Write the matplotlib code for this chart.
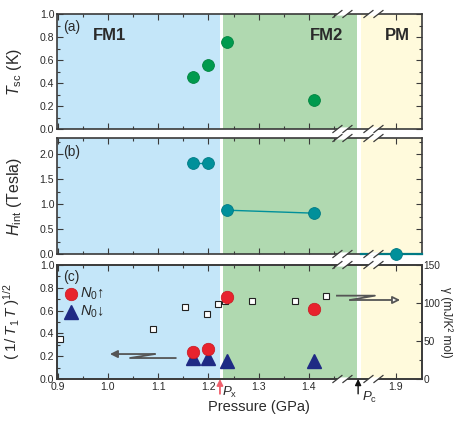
import numpy as np
import matplotlib
matplotlib.use('Agg')
import matplotlib.pyplot as plt
from matplotlib.patches import Polygon
from matplotlib.lines import Line2D
from matplotlib.ticker import FixedLocator, MultipleLocator, FormatStrFormatter
from matplotlib.transforms import blended_transform_factory

plt.rcParams['font.family'] = ['Liberation Sans', 'DejaVu Sans']
plt.rcParams['mathtext.fontset'] = 'custom'
plt.rcParams['mathtext.rm'] = 'Liberation Sans'
plt.rcParams['mathtext.it'] = 'Liberation Sans:italic'
plt.rcParams['mathtext.bf'] = 'Liberation Sans:bold'

# ---------------- data ----------------
p_tsc = [1.17, 1.20, 1.237, 1.41]
tsc = [0.45, 0.555, 0.755, 0.25]

p_hint_fm1 = [1.17, 1.20]
hint_fm1 = [1.83, 1.83]
p_hint_fm2 = [1.237, 1.41]
hint_fm2 = [0.88, 0.82]
p_hint_pm = [1.9]
hint_pm = [0.0]
p_hint_pm_line = [1.831, 1.952]
hint_pm_line = [0.0, 0.0]

p_n0 = [1.17, 1.20, 1.237, 1.41]
n0_up = [0.235, 0.26, 0.72, 0.61]
n0_down = [0.18, 0.18, 0.16, 0.16]

p_gamma = [0.904, 1.090, 1.153, 1.197, 1.220, 1.233, 1.286, 1.372, 1.434]
gamma = [52.6, 65.8, 94.3, 85.5, 98.7, 102.6, 103.0, 103.0, 109.6]

x_ticks = [0.9, 1.0, 1.1, 1.2, 1.3, 1.4, 1.9]
x_tick_labels = ['0.9', '1.0', '1.1', '1.2', '1.3', '1.4', '1.9']
x_minor = [0.95, 1.05, 1.15, 1.25, 1.35, 1.45]

FM1_END = 1.2235
FM2_START = 1.2295
FM2_END = 1.495
PM_START = 1.8304
P_X = 1.223

# ---------------- broken x scale ----------------
B_LO, B_HI, SHIFT = 1.5, 1.827, 0.327


def fwd(p):
    p = np.asarray(p, dtype=float)
    return np.where(p <= B_LO, p, np.where(p >= B_HI, p - SHIFT, B_LO))


def inv(u):
    u = np.asarray(u, dtype=float)
    return np.where(u <= B_LO, u, u + SHIFT)


FW, FH = 454, 424
fig = plt.figure(figsize=(FW / 100, FH / 100), dpi=100)

L = 57 / FW
Wd = 365 / FW
pos = {
    'a': (L, 1 - 129 / FH, Wd, 115 / FH),
    'b': (L, 1 - 254 / FH, Wd, 116 / FH),
    'c': (L, 1 - 379 / FH, Wd, 114 / FH),
}

C_BLUE = '#c4e6f9'
C_GREEN = '#b0d9b0'
C_YELLOW = '#fffadc'
SPINE = '#3a3a3a'
TXT = '#2a2a2a'
TICK_FS = 7.6


def shade(ax):
    ax.axvspan(0.85, FM1_END, color=C_BLUE, lw=0, zorder=0)
    ax.axvspan(FM2_START, FM2_END, color=C_GREEN, lw=0, zorder=0)
    ax.axvspan(PM_START, 2.0, color=C_YELLOW, lw=0, zorder=0)


def style(ax, labels=False, right=True):
    ax.set_xscale('function', functions=(fwd, inv))
    ax.set_xlim(0.899, 1.9517)
    ax.xaxis.set_major_locator(FixedLocator(x_ticks))
    ax.xaxis.set_minor_locator(FixedLocator(x_minor))
    if labels:
        ax.set_xticklabels(x_tick_labels)
    else:
        ax.set_xticklabels([])
    ax.tick_params(which='both', direction='in', top=True, right=right,
                   labelsize=TICK_FS, labelcolor=TXT, color=SPINE, pad=2)
    ax.tick_params(which='major', length=4, width=0.8)
    ax.tick_params(which='minor', length=2.5, width=0.8)
    for s in ax.spines.values():
        s.set_color(SPINE)
        s.set_linewidth(1.2)


def break_marks(ax):
    W = ax.get_position().width * FW
    H = ax.get_position().height * FH
    off = 5 / W
    hw, hh = 4.5 / W, 3.5 / H
    pw, ph = 1.9 / W, 1.6 / H
    for cx in (0.782, 0.867):
        for cy in (0.0, 1.0):
            poly = Polygon([(cx - off - pw, cy - ph), (cx - off + pw, cy + ph),
                            (cx + off + pw, cy + ph), (cx + off - pw, cy - ph)],
                           closed=True, transform=ax.transAxes, facecolor='white',
                           edgecolor='none', clip_on=False, zorder=20)
            ax.add_patch(poly)
            for s in (-off, off):
                ax.add_line(Line2D([cx + s - hw, cx + s + hw], [cy - hh, cy + hh],
                                   transform=ax.transAxes, color=SPINE, lw=0.9,
                                   clip_on=False, zorder=21))


# ---------------- panel (a) ----------------
axa = fig.add_axes(pos['a'])
shade(axa)
style(axa)
axa.set_ylim(0, 1.0)
axa.yaxis.set_major_locator(MultipleLocator(0.2))
axa.yaxis.set_minor_locator(MultipleLocator(0.1))
axa.yaxis.set_major_formatter(FormatStrFormatter('%.1f'))
axa.plot(p_tsc, tsc, 'o', ms=8.5, color='#009a4e', mec='#00843f', mew=0.6,
         ls='none', zorder=5)
axa.set_ylabel(r'$T_{\rm sc}$ (K)', fontsize=11.5, color=TXT)
axa.yaxis.set_label_coords(-0.09, 0.5)
axa.text(0.016, 0.885, '(a)', transform=axa.transAxes, fontsize=10, color=TXT, va='center')
axa.text(0.099, 0.815, 'FM1', transform=axa.transAxes, fontsize=12, weight='bold', color=TXT, va='center')
axa.text(0.693, 0.815, 'FM2', transform=axa.transAxes, fontsize=12, weight='bold', color=TXT, va='center')
axa.text(0.899, 0.815, 'PM', transform=axa.transAxes, fontsize=12, weight='bold', color=TXT, va='center')
break_marks(axa)

# ---------------- panel (b) ----------------
axb = fig.add_axes(pos['b'])
shade(axb)
style(axb)
axb.set_ylim(0, 2.33)
axb.yaxis.set_major_locator(MultipleLocator(0.5))
axb.yaxis.set_minor_locator(MultipleLocator(0.25))
axb.yaxis.set_major_formatter(FormatStrFormatter('%.1f'))
TEAL = '#00909a'
axb.plot(p_hint_fm1, hint_fm1, '-o', ms=8.5, color=TEAL, mec='#007a84', mew=0.6, lw=1.0, zorder=5)
axb.plot(p_hint_fm2, hint_fm2, '-o', ms=8.5, color=TEAL, mec='#007a84', mew=0.6, lw=1.0, zorder=5)
axb.plot(p_hint_pm_line, hint_pm_line, '-', color='#007a84', lw=1.6, zorder=4, clip_on=False)
axb.plot(p_hint_pm, hint_pm, 'o', ms=8.5, color=TEAL, mec='#007a84', mew=0.6, zorder=6, clip_on=False)
axb.set_ylabel(r'$H_{\rm int}$ (Tesla)', fontsize=11.5, color=TXT)
axb.yaxis.set_label_coords(-0.09, 0.5)
axb.text(0.016, 0.879, '(b)', transform=axb.transAxes, fontsize=10, color=TXT, va='center')
break_marks(axb)

# ---------------- panel (c) ----------------
axc = fig.add_axes(pos['c'])
axg = axc.twinx()
shade(axg)
style(axc, labels=True, right=False)
axg.set_ylim(0, 150)
axg.yaxis.set_major_locator(MultipleLocator(50))
axg.yaxis.set_minor_locator(MultipleLocator(25))
axg.tick_params(which='both', direction='in', right=True, labelsize=7.3,
                labelcolor=TXT, color=SPINE, pad=1.0)
axg.tick_params(which='major', length=4, width=0.8)
axg.tick_params(which='minor', length=2.5, width=0.8)
for s in axg.spines.values():
    s.set_color(SPINE)
    s.set_linewidth(1.2)
axg.plot(p_gamma, gamma, 's', ms=5, mfc='white', mec='#222222', mew=0.8, ls='none', zorder=5)
fig.text(446.5 / FW, 1 - 322 / FH, '\u03b3 (mJ/K\u00b2 mol)', fontsize=8.6, color=TXT,
         rotation=270, ha='center', va='center')

axc.set_zorder(axg.get_zorder() + 1)
axc.patch.set_visible(False)
axc.set_ylim(0, 1.0)
axc.yaxis.set_major_locator(MultipleLocator(0.2))
axc.yaxis.set_minor_locator(MultipleLocator(0.1))
axc.yaxis.set_major_formatter(FormatStrFormatter('%.1f'))
NAVY = '#1f2a84'
RED = '#e8232d'
axc.plot(p_n0, n0_down, '^', ms=10, color=NAVY, mec=NAVY, ls='none', zorder=5)
axc.plot(p_n0, n0_up, 'o', ms=9, color=RED, mec='#c81820', mew=0.5, ls='none', zorder=6)
axc.set_ylabel(r'$(\;1/\;T_1\,T\;)^{1/2}$', fontsize=11, color=TXT)
axc.yaxis.set_label_coords(-0.095, 0.5)
axc.text(0.016, 0.897, '(c)', transform=axc.transAxes, fontsize=10, color=TXT, va='center')

# legend
axc.plot([0.038], [0.746], 'o', ms=9, color=RED, mec='#c81820', mew=0.5,
         transform=axc.transAxes, clip_on=False)
axc.plot([0.038], [0.586], '^', ms=10, color=NAVY, transform=axc.transAxes, clip_on=False)
axc.text(0.064, 0.746, r'$N_0$' + '\u2191', transform=axc.transAxes, fontsize=10.5, color=TXT, va='center')
axc.text(0.064, 0.586, r'$N_0$' + '\u2193', transform=axc.transAxes, fontsize=10.5, color=TXT, va='center')

# zigzag arrows
GRAY = '#555555'
axc.plot([0.268, 0.200, 0.325], [0.219, 0.184, 0.184], color=GRAY, lw=1.3,
         transform=axc.transAxes, zorder=4)
axc.annotate('', xy=(0.145, 0.219), xycoords='axes fraction', xytext=(0.268, 0.219),
             textcoords='axes fraction',
             arrowprops=dict(arrowstyle='-|>', color=GRAY, lw=1.3, mutation_scale=11,
                             shrinkA=0, shrinkB=0))
axc.plot([0.767, 0.871, 0.803], [0.731, 0.731, 0.693], color=GRAY, lw=1.3,
         transform=axc.transAxes, zorder=4)
axc.annotate('', xy=(0.94, 0.693), xycoords='axes fraction', xytext=(0.803, 0.693),
             textcoords='axes fraction',
             arrowprops=dict(arrowstyle='-|>', fc='white', ec=GRAY, lw=1.3, mutation_scale=11,
                             shrinkA=0, shrinkB=0))

# Px / Pc markers
bt = blended_transform_factory(axc.transData, axc.transAxes)
axc.annotate('', xy=(P_X, 0.0), xycoords=bt, xytext=(P_X, -0.13), textcoords=bt,
             arrowprops=dict(arrowstyle='-|>', color='#f0606c', lw=1.3, mutation_scale=9,
                             shrinkA=0, shrinkB=0), annotation_clip=False)
axc.text(1.228, -0.115, r'$P_{\rm x}$', transform=bt, fontsize=9.5, color=TXT, va='center', ha='left')
axc.annotate('', xy=(0.825, 0.0), xycoords='axes fraction', xytext=(0.825, -0.13),
             textcoords='axes fraction',
             arrowprops=dict(arrowstyle='-|>', color='#111111', lw=1.0, mutation_scale=9,
                             shrinkA=0, shrinkB=0), annotation_clip=False)
axc.text(0.836, -0.16, r'$P_{\rm c}$', transform=axc.transAxes, fontsize=9.5, color=TXT,
         va='center', ha='left')
break_marks(axc)

fig.text(259 / FW, 1 - 407 / FH, 'Pressure (GPa)', ha='center', va='center',
         fontsize=10.5, color=TXT)

fig.savefig('out.png', dpi=100)
